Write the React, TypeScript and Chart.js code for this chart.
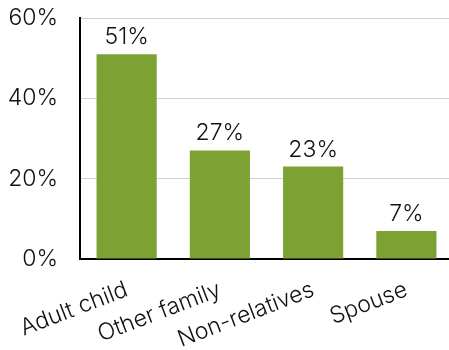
import React, { useEffect, useRef } from "react";
import { Chart, registerables } from "chart.js";
Chart.register(...registerables);

const categories = ["Adult child", "Other family", "Non-relatives", "Spouse"];
const values = [51, 27, 23, 7];
const yTicks = [0, 20, 40, 60];

const FONT = "Inter, 'DejaVu Sans', sans-serif";
const WEIGHT = "300";

const labelPlugin = {
  id: "barLabels",
  afterDatasetsDraw(chart: any) {
    const ctx = chart.ctx;
    const meta = chart.getDatasetMeta(0);
    ctx.save();
    ctx.fillStyle = "#111";
    ctx.font = `${WEIGHT} 23px ${FONT}`;
    ctx.textAlign = "center";
    ctx.textBaseline = "middle";
    meta.data.forEach((el: any, i: number) => {
      ctx.fillText(values[i] + "%", el.x, el.y - 17);
    });
    ctx.restore();
  },
};

export default function App() {
  const ref = useRef<HTMLCanvasElement>(null);
  useEffect(() => {
    document.body.style.margin = "0";
    const chart = new Chart(ref.current!, {
      type: "bar",
      data: {
        labels: categories,
        datasets: [
          {
            data: values,
            backgroundColor: "#7BA232",
            categoryPercentage: 1,
            barPercentage: 0.645,
          },
        ],
      },
      options: {
        animation: false,
        responsive: false,
        maintainAspectRatio: false,
        layout: { padding: { top: 18, left: 0, right: 0, bottom: 0 } },
        plugins: { legend: { display: false }, tooltip: { enabled: false } },
        scales: {
          x: {
            grid: { display: false },
            border: { display: true, color: "#000", width: 2 },
            ticks: {
              color: "#111",
              font: { family: FONT, size: 23, weight: WEIGHT },
              minRotation: 21,
              maxRotation: 21,
              padding: 9,
              autoSkip: false,
            },
            afterFit(scale: any) {
              scale.height = 91;
              scale.paddingTop = 0;
              scale.paddingBottom = 0;
            },
          },
          y: {
            min: 0,
            max: 60,
            afterBuildTicks(scale: any) {
              scale.ticks = yTicks.map((v) => ({ value: v }));
            },
            grid: { color: "#cfcfcf", lineWidth: 1, drawTicks: false },
            border: { display: true, color: "#000", width: 2 },
            ticks: {
              color: "#111",
              font: { family: FONT, size: 23, weight: WEIGHT },
              padding: 22,
              callback: (v: any) => v + "%",
            },
            afterFit(scale: any) {
              scale.width = 80;
              scale.paddingTop = 0;
              scale.paddingBottom = 0;
            },
          },
        },
      },
      plugins: [labelPlugin],
    });
    return () => chart.destroy();
  }, []);
  return (
    <div style={{ position: "fixed", left: 0, top: 0, width: 449, height: 350, overflow: "hidden" }}>
      <canvas ref={ref} width={453} height={350} style={{ width: 453, height: 350 }} />
    </div>
  );
}
